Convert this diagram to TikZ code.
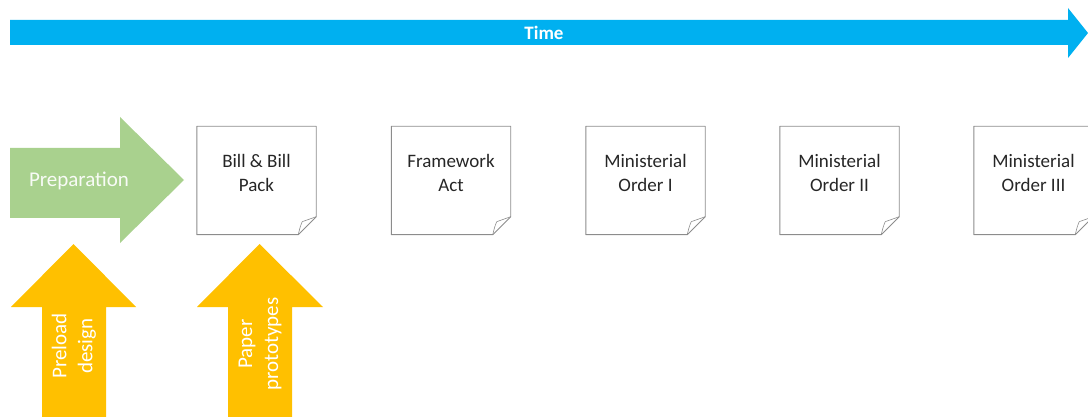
\documentclass[tikz,border=0pt]{standalone}
\usepackage{fontspec}
\setmainfont{Carlito}
\definecolor{timeblue}{HTML}{00B0F0}
\definecolor{prepgreen}{HTML}{A9D18E}
\definecolor{protoyellow}{HTML}{FFC000}
\definecolor{boxgray}{HTML}{8C8C8C}
\begin{document}
\begin{tikzpicture}[x=1pt,y=-1pt,
  docshape/.style={draw=none,minimum width=119pt,minimum height=108pt,inner sep=0pt},
  doctext/.style={align=center,font=\fontsize{19}{24}\selectfont,text=black!85},
  arrowtext/.style={align=center,text=white,font=\fontsize{21}{26}\selectfont},
  docline/.style={draw=boxgray,line width=0.9pt,line join=round}]
\useasboundingbox (0,0) rectangle (1088,417);
% Time arrow
\fill[timeblue] (10,20) -- (1068,20) -- (1068,8) -- (1088,33) -- (1068,58) -- (1068,45) -- (10,45) -- cycle;
\node[text=white,font=\bfseries\fontsize{19}{22}\selectfont] (time) at (544,32.5) {Time};
% Preparation arrow
\fill[prepgreen] (10,148) -- (120,148) -- (120,117) -- (184,180) -- (120,243) -- (120,218) -- (10,218) -- cycle;
\node[arrowtext,text=white!92!prepgreen] (prep) at (79,181) {Preparation};
% Yellow arrows
\fill[protoyellow] (42,417) -- (42,307) -- (11,307) -- (73.5,244) -- (136,307) -- (106,307) -- (106,417) -- cycle;
\node[arrowtext,rotate=90] (preload) at (74,346) {Preload\\design};
\fill[protoyellow] (228,417) -- (228,307) -- (197,307) -- (259.5,244) -- (323,307) -- (292,307) -- (292,417) -- cycle;
\node[arrowtext,rotate=90] (paper) at (260,344) {Paper\\prototypes};
% Document boxes
\foreach \name/\cx/\txt in {b1/256.5/{Bill \& Bill\\Pack}, b2/451/{Framework\\Act}, b3/645.5/{Ministerial\\Order I}, b4/839.5/{Ministerial\\Order II}, b5/1033.5/{Ministerial\\Order III}}{
  \node[docshape] (\name) at (\cx,180.5) {};
  \draw[docline] (\name.north west) -- (\name.north east) -- ([yshift=18pt]\name.south east) -- ([xshift=-18pt]\name.south east) -- (\name.south west) -- cycle;
  \draw[docline,line width=0.6pt] ([xshift=-18pt]\name.south east) .. controls ([xshift=-16pt,yshift=8pt]\name.south east) .. ([xshift=-14pt,yshift=13pt]\name.south east) -- ([yshift=18pt]\name.south east);
  \node[doctext] (\name t) at ([yshift=8pt]\name.center) {\txt};
}
\end{tikzpicture}
\end{document}
